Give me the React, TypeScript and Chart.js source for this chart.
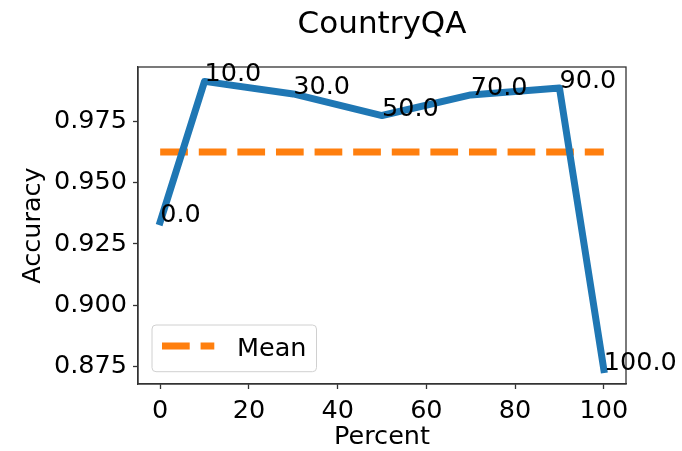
import React, { useEffect, useRef } from "react";
import { Chart, registerables } from "chart.js";

Chart.register(...registerables);

const chartTitle = "CountryQA";
const xAxisLabel = "Percent";
const yAxisLabel = "Accuracy";
const percents = [0, 10, 30, 50, 70, 90, 100];
const accuracy = [0.934, 0.9912, 0.9861, 0.9773, 0.9857, 0.9885, 0.8738];
const meanAccuracy = 0.9624;
const meanLabel = "Mean";
const xTicks = [0, 20, 40, 60, 80, 100];
const yTicks = [0.875, 0.9, 0.925, 0.95, 0.975];

const FONT = "'DejaVu Sans', sans-serif";
const BLUE = "#1f77b4";
const ORANGE = "#ff7f0e";
const SPINE = "#333333";
const DASH = [27.7, 10.9];

const decorPlugin = {
  id: "decor",
  afterDatasetsDraw(chart: any) {
    const { ctx, chartArea } = chart;
    const { left, right, top, bottom } = chartArea;
    ctx.save();
    // box spines
    ctx.strokeStyle = SPINE;
    ctx.lineWidth = 1.3;
    ctx.strokeRect(left, top, right - left, bottom - top);

    // annotations
    const meta = chart.getDatasetMeta(0);
    ctx.fillStyle = "#000";
    ctx.font = `25.5px ${FONT}`;
    ctx.textAlign = "left";
    ctx.textBaseline = "alphabetic";
    meta.data.forEach((pt: any, i: number) => {
      ctx.fillText(percents[i].toFixed(1), pt.x, pt.y);
    });

    // legend
    const lx = left + 14;
    const ly = bottom - 59;
    const lw = 164.5;
    const lh = 46.7;
    ctx.beginPath();
    ctx.roundRect(lx, ly, lw, lh, 4);
    ctx.fillStyle = "rgba(255,255,255,0.8)";
    ctx.fill();
    ctx.strokeStyle = "#d0d0d0";
    ctx.lineWidth = 1;
    ctx.stroke();
    ctx.beginPath();
    ctx.setLineDash(DASH);
    ctx.lineCap = "butt";
    ctx.strokeStyle = ORANGE;
    ctx.lineWidth = 7;
    ctx.moveTo(lx + 10, ly + 21);
    ctx.lineTo(lx + 62.3, ly + 21);
    ctx.stroke();
    ctx.setLineDash([]);
    ctx.fillStyle = "#000";
    ctx.font = `25.5px ${FONT}`;
    ctx.fillText(meanLabel, lx + 85, ly + 31);

    // title
    ctx.font = `31px ${FONT}`;
    ctx.textAlign = "center";
    ctx.fillText(chartTitle, (left + right) / 2, 33.3);
    ctx.restore();
  },
};

export default function App() {
  const canvasRef = useRef<HTMLCanvasElement | null>(null);

  useEffect(() => {
    if (!canvasRef.current) return;
    const chart = new Chart(canvasRef.current, {
      type: "line",
      data: {
        datasets: [
          {
            label: "Accuracy",
            data: percents.map((p, i) => ({ x: p, y: accuracy[i] })),
            borderColor: BLUE,
            borderWidth: 7,
            pointRadius: 0,
            tension: 0,
            fill: false,
            borderJoinStyle: "round",
            borderCapStyle: "square",
            clip: false as any,
          },
          {
            label: meanLabel,
            data: [
              { x: percents[0], y: meanAccuracy },
              { x: percents[percents.length - 1], y: meanAccuracy },
            ],
            borderColor: ORANGE,
            borderWidth: 7,
            borderDash: DASH,
            borderCapStyle: "butt",
            pointRadius: 0,
            fill: false,
          },
        ],
      },
      options: {
        animation: false,
        responsive: false,
        layout: { padding: { top: 67, right: 56, left: 0, bottom: 0 } },
        plugins: {
          legend: { display: false },
          title: { display: false },
          tooltip: { enabled: false },
        },
        scales: {
          x: {
            type: "linear",
            min: -5,
            max: 105,
            afterFit: (s: any) => {
              s.height = 67;
            },
            afterBuildTicks: (s: any) => {
              s.ticks = xTicks.map((v) => ({ value: v }));
            },
            grid: {
              drawOnChartArea: false,
              drawTicks: true,
              tickLength: 5,
              tickWidth: 1.3,
              tickColor: SPINE,
            },
            border: { display: true, color: SPINE, width: 1.3 },
            ticks: {
              color: "#000",
              padding: 7,
              maxRotation: 0,
              font: { family: FONT, size: 25.5 },
              callback: (v: any) => String(v),
            },
            title: {
              display: true,
              text: xAxisLabel,
              color: "#000",
              font: { family: FONT, size: 25.5, lineHeight: 1 },
              padding: { top: 0, bottom: 1 },
            },
          },
          y: {
            type: "linear",
            min: 0.86793,
            max: 0.99707,
            afterFit: (s: any) => {
              s.width = 138;
            },
            afterBuildTicks: (s: any) => {
              s.ticks = yTicks.map((v) => ({ value: v }));
            },
            grid: {
              drawOnChartArea: false,
              drawTicks: true,
              tickLength: 5,
              tickWidth: 1.3,
              tickColor: SPINE,
            },
            border: { display: true, color: SPINE, width: 1.3 },
            ticks: {
              color: "#000",
              padding: 6,
              font: { family: FONT, size: 25.5 },
              callback: (v: any) => Number(v).toFixed(3),
            },
            title: {
              display: true,
              text: yAxisLabel,
              color: "#000",
              font: { family: FONT, size: 25.5, lineHeight: 1 },
              padding: { top: 21, bottom: 0 },
            },
          },
        },
      },
      plugins: [decorPlugin],
    } as any);
    return () => chart.destroy();
  }, []);

  return (
    <div style={{ position: "absolute", left: 0, top: 0, width: 682, height: 451, background: "#fff" }}>
      <canvas ref={canvasRef} width={682} height={451} style={{ width: 682, height: 451 }} />
    </div>
  );
}
